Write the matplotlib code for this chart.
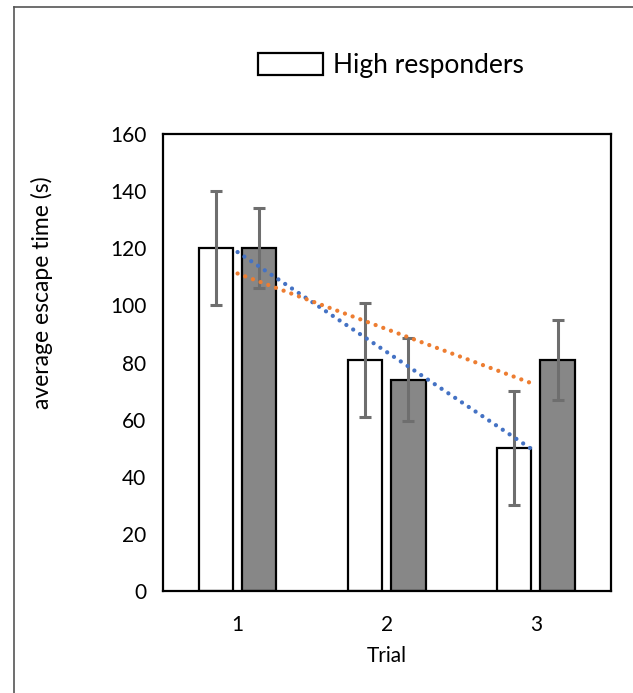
import numpy as np
import matplotlib
matplotlib.use("Agg")
import matplotlib.pyplot as plt
from matplotlib.lines import Line2D

plt.rcParams["font.family"] = ["Lato", "DejaVu Sans"]

# data
trials = [1, 2, 3]
high_mean = [120, 81, 50]
high_err = [20, 20, 20]
low_mean = [120, 74, 81]
low_err = [14, 14.5, 14]

y_ticks = [0, 20, 40, 60, 80, 100, 120, 140, 160]

fig = plt.figure(figsize=(6.33, 6.93), dpi=100)
ax = fig.add_axes([0.2575, 0.1472, 0.707, 0.6594])

x = np.array(trials, dtype=float)
w = 0.23
off = 0.145

err_kw = dict(ecolor="#6e6e6e", elinewidth=2.2, capsize=4.5, capthick=2.2)
ax.bar(x - off, high_mean, w, yerr=high_err, color="white", edgecolor="black",
       linewidth=1.6, error_kw=err_kw, label="High responders", zorder=2)
ax.bar(x + off, low_mean, w, yerr=low_err, color="#878787", edgecolor="black",
       linewidth=1.6, error_kw=err_kw, zorder=2)

# linear trendlines like excel
for vals, col in [(high_mean, "#4472C4"), (low_mean, "#ED7D31")]:
    k, b = np.polyfit(x, vals, 1)
    ax.plot([x[0], x[-1]], [k * x[0] + b, k * x[-1] + b], color=col,
            linewidth=3.1, linestyle=(0, (0.001, 1.9)), dash_capstyle="round",
            zorder=3)

ax.set_xlim(0.5, 3.5)
ax.set_ylim(0, 160)
ax.set_xticks(trials)
ax.set_yticks(y_ticks)
ax.tick_params(axis="both", length=0, labelsize=15)
ax.tick_params(axis="y", pad=12)
ax.tick_params(axis="x", pad=17)
for s in ax.spines.values():
    s.set_linewidth(1.6)
    s.set_color("black")

ax.set_xlabel("Trial", fontsize=15, labelpad=8)
ax.set_ylabel("average escape time (s)", fontsize=16.5)
ax.yaxis.set_label_coords(-0.245, 0.652)

fig.legend(loc="center", bbox_to_anchor=(0.618, 0.905), frameon=False,
           fontsize=19, handlelength=2.45, handleheight=0.9, handletextpad=0.4)

# outer chart frame (only left and top show in the crop)
fig.add_artist(Line2D([14 / 633, 14 / 633], [0, 1 - 7 / 693], color="#555555",
                      linewidth=1.2, transform=fig.transFigure))
fig.add_artist(Line2D([14 / 633, 1], [1 - 7 / 693, 1 - 7 / 693], color="#555555",
                      linewidth=1.2, transform=fig.transFigure))

fig.savefig("out.png", dpi=100)
